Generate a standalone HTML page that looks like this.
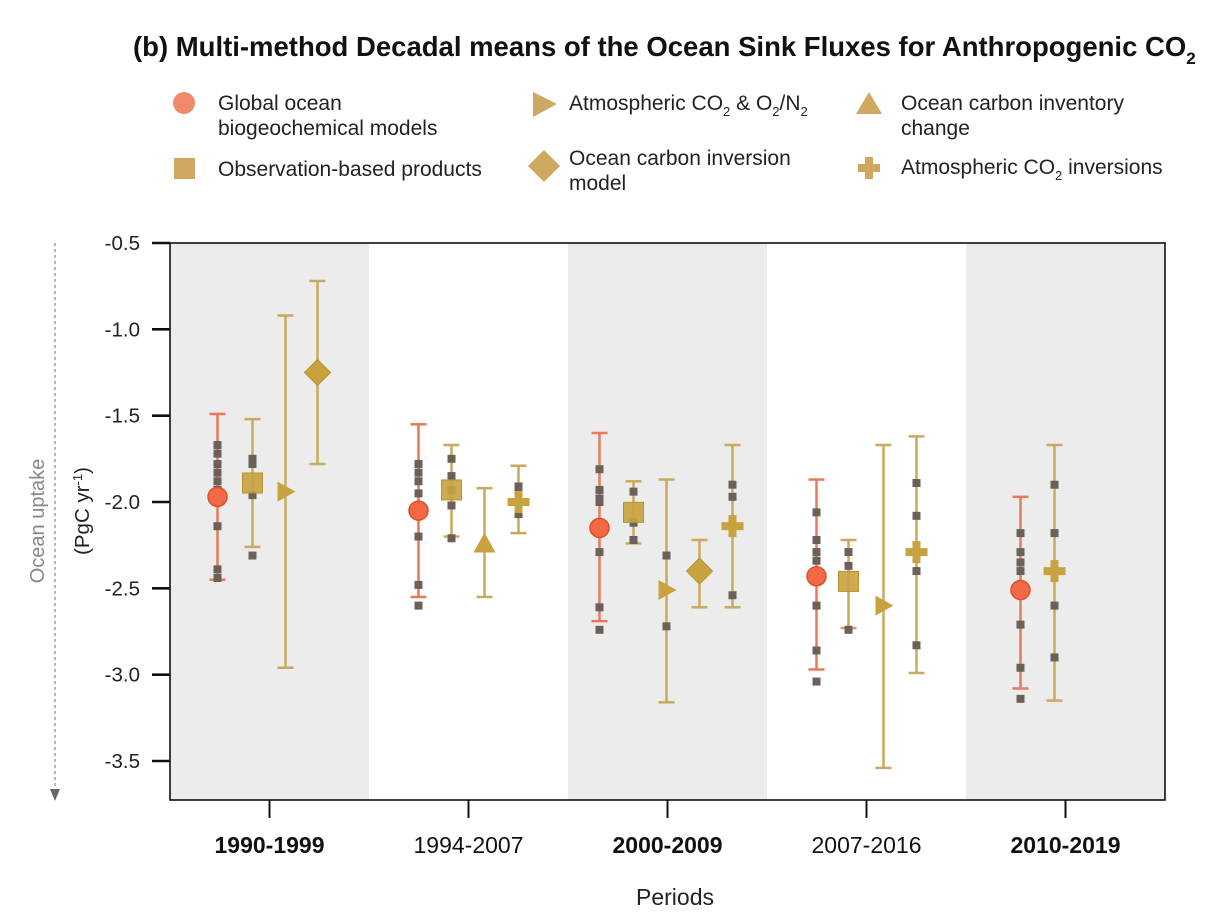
<!DOCTYPE html>
<html><head><meta charset="utf-8"><style>
body{margin:0;background:#fff;font-family:"Liberation Sans",Arial,sans-serif;}
svg{display:block}
</style></head><body>
<svg id="chart" width="1223" height="921" xmlns="http://www.w3.org/2000/svg" font-family="Liberation Sans, Arial, sans-serif">
<text x="133" y="56" font-size="27.5" font-weight="bold" fill="#111">(b) Multi-method Decadal means of the Ocean Sink Fluxes for Anthropogenic CO<tspan font-size="17" dy="8">2</tspan></text>
<g font-size="21" fill="#222">
 <g><circle cx="184" cy="103" r="11" fill="#f08a6a"/><text x="218" y="110">Global ocean</text><text x="218" y="135">biogeochemical models</text></g>
 <g><rect x="174" y="158" width="21" height="21" fill="#cda85e"/><text x="218" y="176">Observation-based products</text></g>
 <g><polygon points="533,92 533,117 557,104" fill="#cda85e"/><text x="569" y="110">Atmospheric CO<tspan font-size="13" dy="6">2</tspan><tspan dy="-6"> &amp; O</tspan><tspan font-size="13" dy="6">2</tspan><tspan dy="-6">/N</tspan><tspan font-size="13" dy="6">2</tspan></text></g>
 <g><polygon points="544,150 560,166 544,182 528,166" fill="#cda85e"/><text x="569" y="165">Ocean carbon inversion</text><text x="569" y="190">model</text></g>
 <g><polygon points="869,92 882,114 856,114" fill="#cda85e"/><text x="901" y="110">Ocean carbon inventory</text><text x="901" y="135">change</text></g>
 <g><path d="M865,157h8v7h7v8h-7v7h-8v-7h-7v-8h7z" fill="#cda85e"/><text x="901" y="174">Atmospheric CO<tspan font-size="13" dy="6">2</tspan><tspan dy="-6"> inversions</tspan></text></g>
</g>
<g id="plot"></g>
</svg>
<script>
const periods=["1990-1999","1994-2007","2000-2009","2007-2016","2010-2019"];
const boldPeriods=[true,false,true,false,true];
const yTicks=[-0.5,-1.0,-1.5,-2.0,-2.5,-3.0,-3.5];
const gobmPeriods=[0,1,2,3,4];
const gobmMeans=[-1.97,-2.05,-2.15,-2.43,-2.51];
const gobmHigh=[-1.49,-1.55,-1.60,-1.87,-1.97];
const gobmLow=[-2.45,-2.55,-2.69,-2.97,-3.08];
const gobmDots=[[-1.67,-1.72,-1.78,-1.83,-1.88,-1.93,-2.14,-2.39,-2.44],[-1.78,-1.83,-1.88,-1.95,-2.05,-2.20,-2.48,-2.60],[-1.81,-1.93,-1.98,-2.00,-2.29,-2.61,-2.74],[-2.06,-2.22,-2.29,-2.34,-2.60,-2.86,-3.04],[-2.18,-2.29,-2.35,-2.40,-2.71,-2.96,-3.14]];
const obsPeriods=[0,1,2,3];
const obsMeans=[-1.89,-1.93,-2.06,-2.46];
const obsHigh=[-1.52,-1.67,-1.88,-2.22];
const obsLow=[-2.26,-2.20,-2.24,-2.73];
const obsDots=[[-1.75,-1.78,-1.96,-2.31],[-1.75,-1.85,-1.93,-2.02,-2.21],[-1.94,-2.12,-2.22],[-2.29,-2.37,-2.74]];
const o2Periods=[0,2,3];
const o2Means=[-1.94,-2.51,-2.60];
const o2High=[-0.92,-1.87,-1.67];
const o2Low=[-2.96,-3.16,-3.54];
const o2Dots=[[],[-2.31,-2.72],[]];
const invmPeriods=[0,2];
const invmMeans=[-1.25,-2.40];
const invmHigh=[-0.72,-2.22];
const invmLow=[-1.78,-2.61];
const invPeriods=[1];
const invMeans=[-2.24];
const invHigh=[-1.92];
const invLow=[-2.55];
const atmPeriods=[1,2,3,4];
const atmMeans=[-2.00,-2.14,-2.29,-2.40];
const atmHigh=[-1.79,-1.67,-1.62,-1.67];
const atmLow=[-2.18,-2.61,-2.99,-3.15];
const atmDots=[[-1.91,-1.95,-2.04,-2.07],[-1.90,-1.97,-2.54],[-1.89,-2.08,-2.40,-2.83],[-1.90,-2.18,-2.60,-2.90]];

// layout: horizontal slot offsets (px) for each series within its period group
const gobmOff=[-52,-50,-68,-50,-45];
const obsOff=[-17,-17,-34,-18];
const o2Off=[16,-1,17];
const invmOff=[48,32];
const invOff=[16];
const atmOff=[50,65,50,-11];

const NS="http://www.w3.org/2000/svg";
const L=170,R=1165,T=243,B=800;
const pw=(R-L)/periods.length;
const y=v=>T+(-0.5-v)*(761-243)/3.0;
const px=i=>L+pw*(i+0.5);
const g=document.getElementById('plot');
function mk(tag,attrs,parent){const e=document.createElementNS(NS,tag);for(const k in attrs)e.setAttribute(k,attrs[k]);(parent||g).appendChild(e);return e;}
periods.forEach((p,i)=>{if(i%2===0){const r=mk('rect',{x:L+pw*i,y:T,width:pw,height:B-T,fill:'#ececec'});

}});
const fr=mk('rect',{x:L,y:T,width:R-L,height:B-T,fill:'none',stroke:'#111','stroke-width':1.6});


yTicks.forEach(v=>{mk('line',{x1:L-18,x2:L,y1:y(v),y2:y(v),stroke:'#111','stroke-width':2.6});
const t=mk('text',{x:L-30,y:y(v)+7,'text-anchor':'end','font-size':20.5,fill:'#222'});t.textContent=v.toFixed(1);

});
periods.forEach((p,i)=>{mk('line',{x1:px(i),x2:px(i),y1:B,y2:B+18,stroke:'#111','stroke-width':2});
const t=mk('text',{x:px(i),y:853,'text-anchor':'middle','font-size':23,'font-weight':boldPeriods[i]?'bold':'normal',fill:'#111'});t.textContent=p;

});
const xt=mk('text',{x:675,y:905,'text-anchor':'middle','font-size':23,fill:'#222'});xt.textContent='Periods';


const yt=mk('text',{transform:'translate(89,511) rotate(-90)','text-anchor':'middle','font-size':20.5,fill:'#222'});yt.innerHTML='(PgC yr<tspan font-size="13" dy="-7">-1</tspan><tspan dy="7">)</tspan>';


const yu=mk('text',{transform:'translate(44,521) rotate(-90)','text-anchor':'middle','font-size':20,fill:'#888'});yu.textContent='Ocean uptake';


mk('line',{x1:55,x2:55,y1:243,y2:790,stroke:'#888','stroke-width':1.2,'stroke-dasharray':'3,3'});
mk('polygon',{points:'50,789 60,789 55,801',fill:'#666'});

function series(name,periodsIdx,offs,means,hi,lo,dots,barColor,shape){
 periodsIdx.forEach((pi,k)=>{
  const cx=px(pi)+offs[k];
  const grp=mk('g',{});
  
  
  mk('line',{x1:cx,x2:cx,y1:y(hi[k]),y2:y(lo[k]),stroke:barColor,'stroke-width':2.5},grp);
  [hi[k],lo[k]].forEach(v=>mk('line',{x1:cx-8,x2:cx+8,y1:y(v),y2:y(v),stroke:barColor,'stroke-width':2.5},grp));
  (dots&&dots[k]||[]).forEach(v=>mk('rect',{x:cx-4,y:y(v)-4,width:8,height:8,fill:'#6b6158'},grp));
  const cy=y(means[k]);
  if(shape==='circle')mk('circle',{cx:cx,cy:cy,r:9.5,fill:'#f26a45',stroke:'#e04e2a','stroke-width':1.5},grp);
  if(shape==='square')mk('rect',{x:cx-10,y:cy-10,width:20,height:20,fill:'#c9a240',stroke:'#b8922e','stroke-width':1,'fill-opacity':0.9},grp);
  if(shape==='tri-right')mk('polygon',{points:`${cx-8},${cy-10} ${cx-8},${cy+10} ${cx+10},${cy}`,fill:'#c9a240'},grp);
  if(shape==='tri-up')mk('polygon',{points:`${cx},${cy-11} ${cx+11},${cy+9} ${cx-11},${cy+9}`,fill:'#c9a240'},grp);
  if(shape==='diamond')mk('polygon',{points:`${cx},${cy-13} ${cx+13},${cy} ${cx},${cy+13} ${cx-13},${cy}`,fill:'#c9a240',stroke:'#b8922e'},grp);
  if(shape==='plus')mk('path',{d:`M${cx-4},${cy-11}h8v7h7v8h-7v7h-8v-7h-7v-8h7z`,fill:'#c9a240'},grp);
 });
}
series('gobm-point',gobmPeriods,gobmOff,gobmMeans,gobmHigh,gobmLow,gobmDots,'#e8795a','circle');
series('obs-point',obsPeriods,obsOff,obsMeans,obsHigh,obsLow,obsDots,'#c9a95c','square');
series('atm-o2-point',o2Periods,o2Off,o2Means,o2High,o2Low,o2Dots,'#c9a95c','tri-right');
series('inversion-model-point',invmPeriods,invmOff,invmMeans,invmHigh,invmLow,null,'#c9a95c','diamond');
series('inventory-point',invPeriods,invOff,invMeans,invHigh,invLow,null,'#c9a95c','tri-up');
series('atm-inversion-point',atmPeriods,atmOff,atmMeans,atmHigh,atmLow,atmDots,'#c9a95c','plus');
</script>
</body></html>
